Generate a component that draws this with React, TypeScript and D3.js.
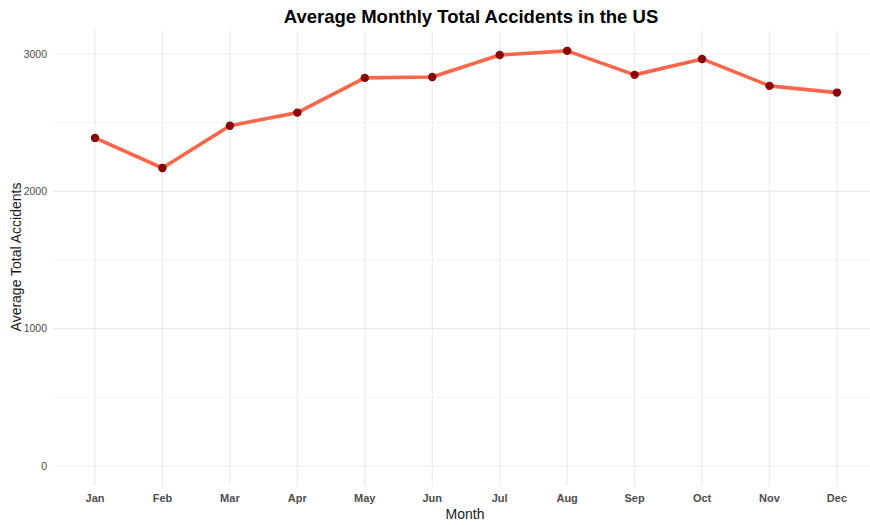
import React from "react";
import * as d3 from "d3";

const months = ["Jan", "Feb", "Mar", "Apr", "May", "Jun", "Jul", "Aug", "Sep", "Oct", "Nov", "Dec"];
const avgAccidents = [2389, 2170, 2478, 2573, 2826, 2833, 2993, 3023, 2848, 2964, 2768, 2719];
const yTicks = [0, 1000, 2000, 3000];
const yMinor = [500, 1500, 2500];

const W = 870;
const H = 525;
const panel = { left: 53, right: 870, top: 30, bottom: 486 };

export default function App() {
  const step = 67.45;
  const x = d3
    .scalePoint<string>()
    .domain(months)
    .range([95, 95 + step * 11]);
  const y = d3.scaleLinear().domain([0, 3000]).range([466, 54]);

  const line = d3
    .line<number>()
    .x((_, i) => x(months[i]) as number)
    .y((d) => y(d));

  const font = "Liberation Sans, Arial, sans-serif";

  return (
    <svg
      width={W}
      height={H}
      style={{ position: "absolute", left: 0, top: 0, background: "#fff" }}
      fontFamily={font}
    >
      <rect x={0} y={0} width={W} height={H} fill="#fff" />
      {yMinor.map((t) => (
        <line key={"m" + t} x1={panel.left} x2={panel.right} y1={y(t)} y2={y(t)} stroke="#f2f2f2" strokeWidth={0.8} />
      ))}
      {yTicks.map((t) => (
        <line key={"g" + t} x1={panel.left} x2={panel.right} y1={y(t)} y2={y(t)} stroke="#ebebeb" strokeWidth={1.1} />
      ))}
      {months.map((m) => (
        <line key={"v" + m} x1={x(m)} x2={x(m)} y1={panel.top} y2={panel.bottom} stroke="#ebebeb" strokeWidth={1.1} />
      ))}
      {yTicks.map((t) => (
        <text key={"t" + t} x={47} y={y(t)} dy="0.35em" textAnchor="end" fontSize={10.5} fill="#4d4d4d">
          {t}
        </text>
      ))}
      {months.map((m) => (
        <text key={"l" + m} x={x(m)} y={502} textAnchor="middle" fontSize={11} fontWeight="bold" fill="#4d4d4d">
          {m}
        </text>
      ))}
      <path d={line(avgAccidents) || ""} fill="none" stroke="#f8674b" strokeWidth={3.6} strokeLinejoin="round" />
      {avgAccidents.map((v, i) => (
        <circle key={"p" + i} cx={x(months[i])} cy={y(v)} r={4.2} fill="#8b0000" />
      ))}
      <text x={465} y={519} textAnchor="middle" fontSize={14} fill="#1a1a1a">
        Month
      </text>
      <text
        transform={`translate(21,257) rotate(-90)`}
        textAnchor="middle"
        fontSize={14}
        fill="#1a1a1a"
      >
        Average Total Accidents
      </text>
      <text x={471} y={23} textAnchor="middle" fontSize={18.5} fontWeight="bold" fill="#000">
        Average Monthly Total Accidents in the US
      </text>
    </svg>
  );
}
